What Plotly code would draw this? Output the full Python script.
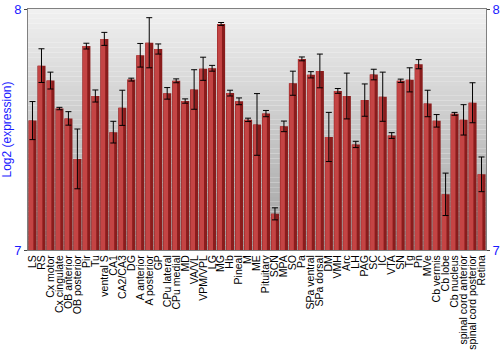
import plotly.graph_objects as go

categories = ["LS", "RS", "Cx motor", "Cx cingulate", "OB anterior", "OB posterior", "Pir", "Tu",
              "ventral S", "CA1", "CA2/CA3", "DG", "A anterior", "A posterior", "GP", "CPu lateral",
              "CPu medial", "MD", "VA/VL", "VPM/VPL", "LG", "MG", "Hb", "Pineal", "M", "ME",
              "Pituitary", "SCN", "MPA", "SO", "Pa", "SPa ventral", "SPa dorsal", "DM", "VMH", "Arc",
              "LH", "PAG", "SC", "IC", "VTA", "SN", "Tg", "Pn", "MVe", "Cb vermis", "Cb lobe",
              "Cb nucleus", "spinal cord anterior", "spinal cord posterior", "Retina"]

values = [7.537, 7.765, 7.703, 7.587, 7.546, 7.378, 7.846, 7.639,
          7.876, 7.489, 7.590, 7.707, 7.808, 7.860, 7.834, 7.650,
          7.702, 7.618, 7.666, 7.752, 7.754, 7.938, 7.651, 7.617, 7.540, 7.521,
          7.566, 7.150, 7.513, 7.692, 7.793, 7.727, 7.743, 7.469, 7.660, 7.639,
          7.438, 7.622, 7.728, 7.636, 7.475, 7.702, 7.706, 7.771, 7.608, 7.536, 7.231,
          7.565, 7.540, 7.611, 7.314]

errors = [0.079, 0.070, 0.035, 0.005, 0.028, 0.124, 0.012, 0.025,
          0.027, 0.045, 0.073, 0.006, 0.049, 0.104, 0.021, 0.024,
          0.008, 0.009, 0.082, 0.048, 0.012, 0.006, 0.012, 0.014, 0.007, 0.128,
          0.013, 0.025, 0.022, 0.050, 0.008, 0.013, 0.070, 0.102, 0.010, 0.095,
          0.013, 0.067, 0.022, 0.102, 0.012, 0.007, 0.050, 0.019, 0.055, 0.026, 0.088,
          0.006, 0.063, 0.083, 0.072]

y_ticks = [7, 8]
y_title = "Log2 (expression)"

blue = "#1a1aff"
fig = go.Figure()

fig.add_trace(go.Bar(x=categories, y=values, base=0, width=0.9,
                     marker=dict(color="#8a1c1c", line=dict(width=0)), showlegend=False))
fig.add_trace(go.Bar(x=categories, y=values, base=0, width=0.5, offset=-0.4,
                     marker=dict(color="#c44444", line=dict(width=0)), showlegend=False))
fig.add_trace(go.Scatter(x=categories, y=values, mode="markers", yaxis="y2",
                         marker=dict(size=1, opacity=0),
                         error_y=dict(type="data", array=errors, color="black", thickness=1, width=3),
                         showlegend=False))

# vertical gray gradient background
n = 50
shapes = []
top = (240, 240, 240)
bot = (160, 160, 160)
for i in range(n):
    t = i / (n - 1)
    c = tuple(int(round(top[k] + (bot[k] - top[k]) * t)) for k in range(3))
    shapes.append(dict(type="rect", xref="paper", yref="paper", x0=0, x1=1,
                       y0=1 - (i + 1) / n, y1=1 - i / n, layer="below",
                       line=dict(width=0), fillcolor="rgb(%d,%d,%d)" % c))

fig.update_layout(
    width=500, height=350,
    margin=dict(l=28, r=14, t=9, b=100),
    paper_bgcolor="white", plot_bgcolor="rgba(0,0,0,0)",
    barmode="overlay", bargap=0.1,
    shapes=shapes,
    font=dict(family="Liberation Sans, Arial, sans-serif"),
    xaxis=dict(tickangle=-90, tickfont=dict(size=10.5, color="black"), showline=True,
               tickmode="array", tickvals=categories, ticktext=categories,
               linecolor="#808080", linewidth=1, mirror=True, ticks="", showgrid=False,
               range=[-0.5, len(categories) - 0.5], automargin=False),
    yaxis=dict(range=[7, 8], tickvals=y_ticks, ticktext=[str(v) for v in y_ticks],
               tickfont=dict(size=13, color=blue), ticks="outside", ticklen=3,
               tickcolor="#444", showgrid=False, zeroline=False, showline=True,
               linecolor="#808080", linewidth=1, automargin=False,
               title=dict(text=y_title, font=dict(size=12, color=blue), standoff=2)),
    yaxis2=dict(range=[7, 8], overlaying="y", side="right", tickvals=y_ticks,
                ticktext=[str(v) for v in y_ticks], tickfont=dict(size=13, color=blue),
                ticks="outside", ticklen=3, tickcolor="#444", showgrid=False, zeroline=False,
                showline=True, linecolor="#808080", linewidth=1, automargin=False),
)

fig.write_html("out.html")
